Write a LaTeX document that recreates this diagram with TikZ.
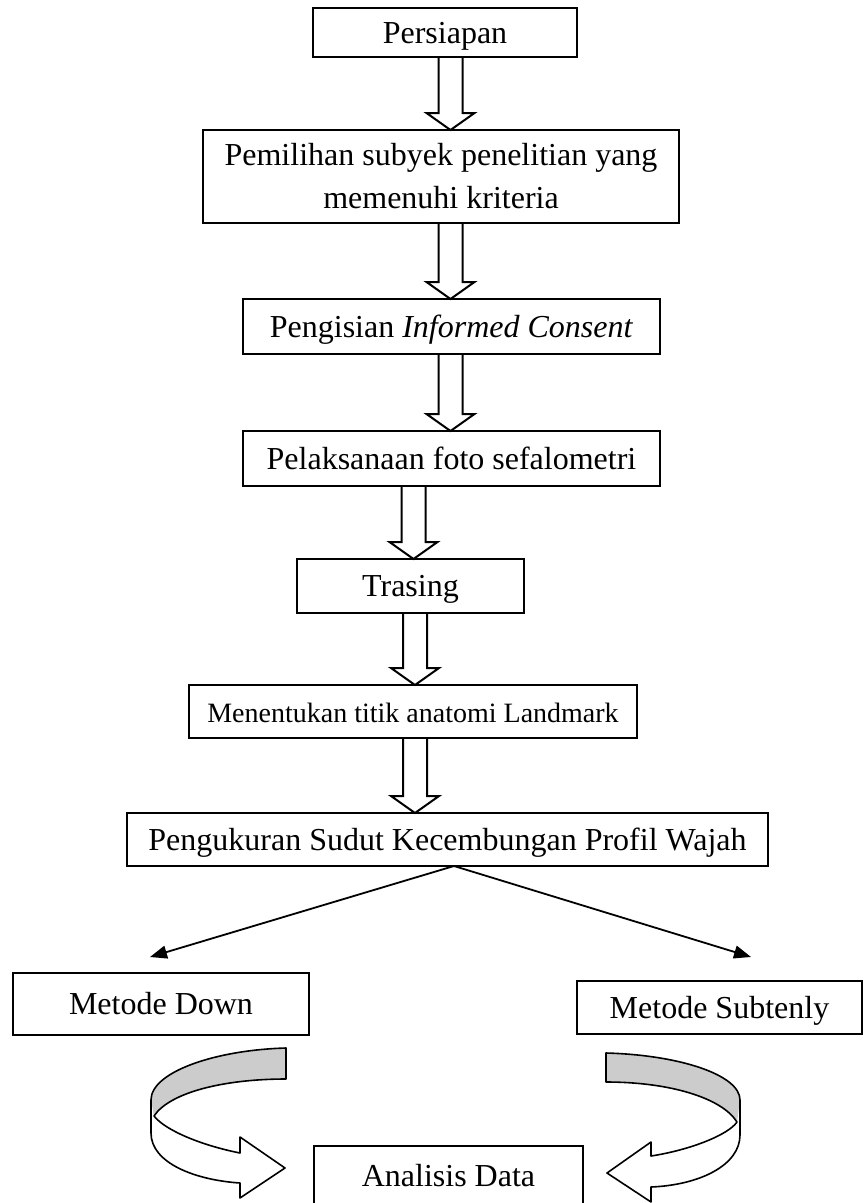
\documentclass[tikz,border=0pt]{standalone}
\usepackage{fontspec}
\setmainfont{Liberation Serif}
\usepackage{tikz}
\usetikzlibrary{positioning}
\usetikzlibrary{arrows.meta}
\usetikzlibrary{calc}

% hollow block arrow from the bottom of #1 to the top of #2, at x = #3
\newcommand{\hollowarrow}[3]{%
    \draw[hollow] let \p1=(#1.south), \p2=(#2.north) in
        (#3pt-12pt,\y1) -- (#3pt-12pt,\y2+17pt) -- (#3pt-24pt,\y2+17pt)
        -- (#3pt,\y2) -- (#3pt+24pt,\y2+17pt) -- (#3pt+12pt,\y2+17pt)
        -- (#3pt+12pt,\y1);
}

\begin{document}
\begin{tikzpicture}[x=1pt, y=-1pt, >={Triangle[length=17pt,width=13pt]},
    stepbox/.style={draw, line width=2pt, inner sep=0pt, outer sep=0pt, align=center,
        font=\fontsize{32}{43}\selectfont, text height=21pt, text depth=0pt},
    hollow/.style={draw, line width=2pt},
    turn/.style={draw, line width=1.6pt, line join=round},
    shade/.style={fill=gray!40}]
    \useasboundingbox (0,0) rectangle (863,1203);

    \node[stepbox, minimum width=264pt, minimum height=49pt] (S1) at (445,32.5) {Persiapan};
    \node[stepbox, minimum width=476pt, minimum height=93pt, text height={}, text depth={},
        below=73pt of S1, xshift=-4pt] (S2) {Pemilihan subyek penelitian yang\\memenuhi kriteria};
    \node[stepbox, minimum width=417pt, minimum height=55pt,
        below=76pt of S2, xshift=10.5pt] (S3) {Pengisian \textit{Informed Consent}};
    \node[stepbox, minimum width=417pt, minimum height=55pt,
        below=77pt of S3] (S4) {Pelaksanaan foto sefalometri};
    \node[stepbox, minimum width=227pt, minimum height=54pt,
        below=73pt of S4, xshift=-41pt] (S5) {Trasing};
    \node[stepbox, minimum width=448pt, minimum height=53pt, font=\fontsize{28}{34}\selectfont,
        below=72pt of S5, xshift=2.5pt] (S6) {Menentukan titik anatomi Landmark};
    \node[stepbox, minimum width=641pt, minimum height=53pt,
        below=75pt of S6, xshift=34.5pt] (S7) {Pengukuran Sudut Kecembungan Profil Wajah};
    \node[stepbox, minimum width=296pt, minimum height=62pt,
        below=107pt of S7, xshift=-286.5pt] (M1) {Metode Down};
    \node[stepbox, minimum width=285pt, minimum height=53pt,
        below=115pt of S7, xshift=272pt] (M2) {Metode Subtenly};
    \node[stepbox, minimum width=269pt, minimum height=59pt,
        below=280pt of S7, xshift=1pt] (AD) {Analisis Data};

    \hollowarrow{S1}{S2}{450.5}
    \hollowarrow{S2}{S3}{450.5}
    \hollowarrow{S3}{S4}{450.5}
    \hollowarrow{S4}{S5}{413.5}
    \hollowarrow{S5}{S6}{415}
    \hollowarrow{S6}{S7}{415}

    \draw[->, line width=1.8pt] ([xshift=6.5pt]S7.south) -- ([xshift=-11pt,yshift=16pt]M1.north);
    \draw[->, line width=1.8pt] ([xshift=6.5pt]S7.south) -- ([xshift=31.5pt,yshift=24pt]M2.north);

    % curved arrow, left
    \fill[shade] (286,1048) .. controls (215,1050) and (151,1072) .. (151,1100)
        -- (154,1116) .. controls (170,1092) and (225,1079) .. (286,1079) -- cycle;
    \draw[turn] (286,1048) .. controls (215,1050) and (151,1072) .. (151,1100)
        -- (151,1133) .. controls (151,1163) and (195,1180) .. (240,1183)
        -- (240,1198) -- (285,1168) -- (240,1137) -- (240,1153)
        .. controls (200,1145) and (165,1130) .. (154,1116)
        .. controls (170,1092) and (225,1079) .. (286,1079) -- cycle;
    % curved arrow, right
    \fill[shade] (606,1053) .. controls (680,1055) and (740,1075) .. (740,1100)
        -- (737,1122) .. controls (722,1098) and (670,1082) .. (606,1082) -- cycle;
    \draw[turn] (606,1053) .. controls (680,1055) and (740,1075) .. (740,1100)
        -- (740,1135) .. controls (740,1165) and (700,1185) .. (651,1187)
        -- (651,1202) -- (607,1173) -- (651,1142) -- (651,1156)
        .. controls (690,1150) and (728,1135) .. (737,1122)
        .. controls (722,1098) and (670,1082) .. (606,1082) -- cycle;
\end{tikzpicture}
\end{document}
